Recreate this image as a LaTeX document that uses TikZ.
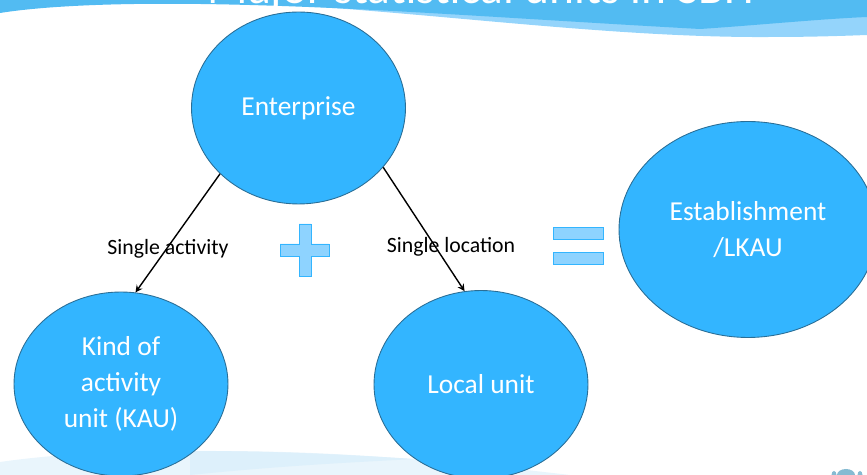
\documentclass[tikz,border=0pt]{standalone}
\usepackage{fontspec}
\setmainfont{Carlito}
\usetikzlibrary{shapes.geometric}
\definecolor{unitblue}{HTML}{33B5FF}
\definecolor{unitedge}{HTML}{2A6E96}
\definecolor{wavetop}{HTML}{52BBF2}
\definecolor{wavelight}{HTML}{94D4FB}
\definecolor{wavebottom}{HTML}{E9F5FC}
\definecolor{wavedeep}{HTML}{DDF0FB}
\definecolor{signfill}{HTML}{8ED3FF}
\definecolor{logoblue}{HTML}{86BBD2}
\tikzset{
  unit/.style={ellipse, draw=unitedge, fill=unitblue, text=white, inner sep=0pt, align=center, line width=0.5pt, font=\fontsize{15.6}{20.4}\selectfont},
  linklabel/.style={font=\fontsize{12.4}{15}\selectfont, inner sep=0pt},
  signbar/.style={draw=unitblue, fill=signfill, inner sep=0pt, line width=0.5pt},
  link/.style={->, black, line width=0.8pt}
}
\begin{document}
\begin{tikzpicture}[x=0.02cm, y=-0.02cm, >=stealth]
  \useasboundingbox (0,0) rectangle (867,475);
  \begin{scope}
    \clip (0,0) rectangle (867,475);
    % waves
    \fill[wavebottom] (0,462) .. controls (70,452) and (150,450) .. (210,451)
      .. controls (300,451) and (400,455) .. (570,475) -- (0,475) -- cycle;
    \fill[wavedeep] (190,451) .. controls (260,451) and (320,453) .. (415,459)
      .. controls (340,463) and (280,466) .. (190,475) -- cycle;
    \fill[wavelight] (290,5) .. controls (450,15) and (620,38) .. (770,37)
      .. controls (810,37) and (840,36) .. (867,35) -- (867,0) -- (290,0) -- cycle;
    \fill[wavetop] (0,13) .. controls (50,5) and (130,3) .. (200,4)
      .. controls (350,6) and (500,18) .. (700,29)
      .. controls (760,25) and (820,19) .. (867,17) -- (867,0) -- (0,0) -- cycle;
    \node[text=white, font=\fontsize{27}{30}\selectfont, inner sep=0pt, anchor=base] (title) at (481,4) {Major statistical units in SBH};
    % logo at the corner
    \fill[logoblue] (846,475) ellipse (9 and 6);
    \fill[logoblue] (834,475) ellipse (2.5 and 4);
    \fill[logoblue] (860,475) ellipse (2.5 and 4);

    \node[unit, minimum width=4.28cm, minimum height=3.84cm] (enterprise) at (298.5,108) {Enterprise};
    \node[unit, minimum width=4.28cm, minimum height=3.68cm] (kau) at (121,384) {Kind of\\activity\\unit (KAU)};
    \node[unit, minimum width=4.28cm, minimum height=3.76cm] (localunit) at (481,384.5) {Local unit};
    \node[unit, minimum width=5.16cm, minimum height=4.32cm] (lkau) at (748,229.5) {Establishment\\/LKAU};

    \node[linklabel] (activity) at (168,249) {Single activity};
    \node[linklabel] (location) at (451,247) {Single location};

    \draw[signbar] (299,224) -- (311,224) -- (311,244) -- (329,244) -- (329,256) -- (311,256)
      -- (311,276) -- (299,276) -- (299,256) -- (280,256) -- (280,244) -- (299,244) -- cycle;
    \node[signbar, minimum width=1cm, minimum height=0.24cm] (eqtop) at (578,233) {};
    \node[signbar, minimum width=1cm, minimum height=0.24cm] (eqbottom) at (578,258) {};

    \draw[link] (enterprise.220.9) -- (kau.81);
    \draw[link] (enterprise.325.6) -- (localunit.100.8);
  \end{scope}
\end{tikzpicture}
\end{document}
